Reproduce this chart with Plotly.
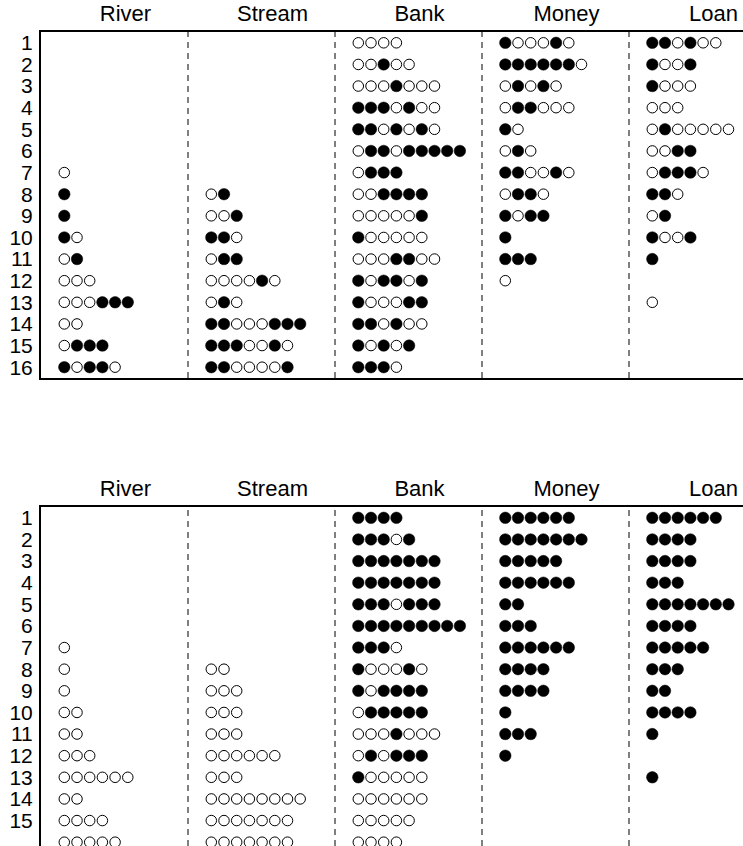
import plotly.graph_objects as go

# ---------------- data ----------------
columns = ["River", "Stream", "Bank", "Money", "Loan"]
row_labels = [str(i) for i in range(1, 17)]

# '1' = filled circle, '0' = open circle, one string per row (1..16)
top_river = ["", "", "", "", "", "", "0", "1", "1", "10", "01", "000", "000111", "00", "0111", "10110"]
top_stream = ["", "", "", "", "", "", "", "01", "001", "110", "011", "000010", "010", "11000111", "1110010", "1100001"]
top_bank = ["0000", "00100", "0001000", "1110100", "1101010", "011011111", "0111", "001111", "000001",
            "100000", "0001100", "101101", "100011", "110100", "10101", "1110"]
top_money = ["100010", "1111110", "01010", "011000", "10", "010", "110010", "0110", "1011", "1", "111", "0",
             "", "", "", ""]
top_loan = ["110100", "1001", "1000", "000", "0100000", "0011", "01110", "110", "01", "1001", "1", "", "0",
            "", "", ""]

bot_river = ["", "", "", "", "", "", "0", "0", "0", "00", "00", "000", "000000", "00", "0000", "00000"]
bot_stream = ["", "", "", "", "", "", "", "00", "000", "000", "000", "000000", "000", "00000000", "0000000",
              "0000000"]
bot_bank = ["1111", "11101", "1111111", "1111111", "1110111", "111111111", "1110", "100010", "101111",
            "011111", "0001000", "010111", "100000", "000000", "00000", "0000"]
bot_money = ["111111", "1111111", "11111", "111111", "11", "111", "111111", "1111", "1111", "1", "111", "1",
             "", "", "", ""]
bot_loan = ["111111", "1111", "1111", "111", "1111111", "1111", "11111", "111", "11", "1111", "1", "", "1",
            "", "", ""]

top_panel = [top_river, top_stream, top_bank, top_money, top_loan]
bot_panel = [bot_river, bot_stream, bot_bank, bot_money, bot_loan]

# ---------------- layout constants ----------------
W, H = 743, 846
ML, MT = 41, 32
COL_PX = 147.0
OFFSET = 23.3 / COL_PX      # first circle inside a column
STEP = 12.7 / COL_PX        # circle spacing
LABEL_POS = 84.5 / COL_PX   # header position inside a column
ROW_PX = 21.625
plot_h = H - MT
x_max = (W - ML) / COL_PX

FONT = "Liberation Sans, Arial, Helvetica, sans-serif"


def points(panel):
    fx, fy, ox, oy = [], [], [], []
    for c, col in enumerate(panel):
        for r, seq in enumerate(col):
            for j, ch in enumerate(seq):
                x = c + OFFSET + STEP * j
                if ch == "1":
                    fx.append(x); fy.append(r + 1)
                else:
                    ox.append(x); oy.append(r + 1)
    return fx, fy, ox, oy


fig = go.Figure()
for panel, xa, ya in [(top_panel, "x", "y"), (bot_panel, "x2", "y2")]:
    fx, fy, ox, oy = points(panel)
    fig.add_trace(go.Scatter(x=ox, y=oy, mode="markers", xaxis=xa, yaxis=ya, showlegend=False,
                             hoverinfo="skip",
                             marker=dict(symbol="circle", size=10.5, color="white",
                                         line=dict(color="black", width=1))))
    fig.add_trace(go.Scatter(x=fx, y=fy, mode="markers", xaxis=xa, yaxis=ya, showlegend=False,
                             hoverinfo="skip",
                             marker=dict(symbol="circle", size=11.5, color="black",
                                         line=dict(color="black", width=0.5))))

top_dom = [(H - 378) / plot_h, 1.0]
bot_dom = [0.0, (H - 507) / plot_h]
bot_range_end = 0.5 + (H - 507) / ROW_PX

header_vals = [c + LABEL_POS for c in range(len(columns))]

xaxis_common = dict(range=[0, x_max], side="top", tickmode="array", tickvals=header_vals,
                    ticktext=columns, ticks="", showgrid=False, zeroline=False, showline=True,
                    linecolor="black", linewidth=1.5, tickfont=dict(family=FONT, size=22, color="black"),
                    domain=[0, 1], ticklabelstandoff=0)
yaxis_common = dict(tickmode="array", tickvals=list(range(1, 17)), ticktext=row_labels, ticks="",
                    showgrid=False, zeroline=False, showline=True, linecolor="black", linewidth=2,
                    tickfont=dict(family=FONT, size=21, color="black"), ticklabelstandoff=2)

fig.update_layout(
    width=W, height=H,
    margin=dict(l=ML, r=0, t=MT, b=0, pad=0),
    paper_bgcolor="white", plot_bgcolor="white",
    xaxis=dict(xaxis_common, anchor="y", mirror=True),
    yaxis=dict(yaxis_common, anchor="x", domain=top_dom, range=[16.5, 0.5]),
    xaxis2=dict(xaxis_common, anchor="y2", mirror=False),
    yaxis2=dict(yaxis_common, anchor="x2", domain=bot_dom, range=[bot_range_end, 0.5]),
)

shapes = []
for ya in ["y", "y2"]:
    for b in range(1, len(columns)):
        shapes.append(dict(type="line", xref="x" if ya == "y" else "x2", yref=ya + " domain",
                           x0=b, x1=b, y0=0, y1=1,
                           line=dict(color="black", width=1, dash="6px,5px")))
fig.update_layout(shapes=shapes)

fig.write_html("out.html", config={"displayModeBar": False},
               post_script="document.body.style.margin='0';document.body.style.overflow='hidden';")
